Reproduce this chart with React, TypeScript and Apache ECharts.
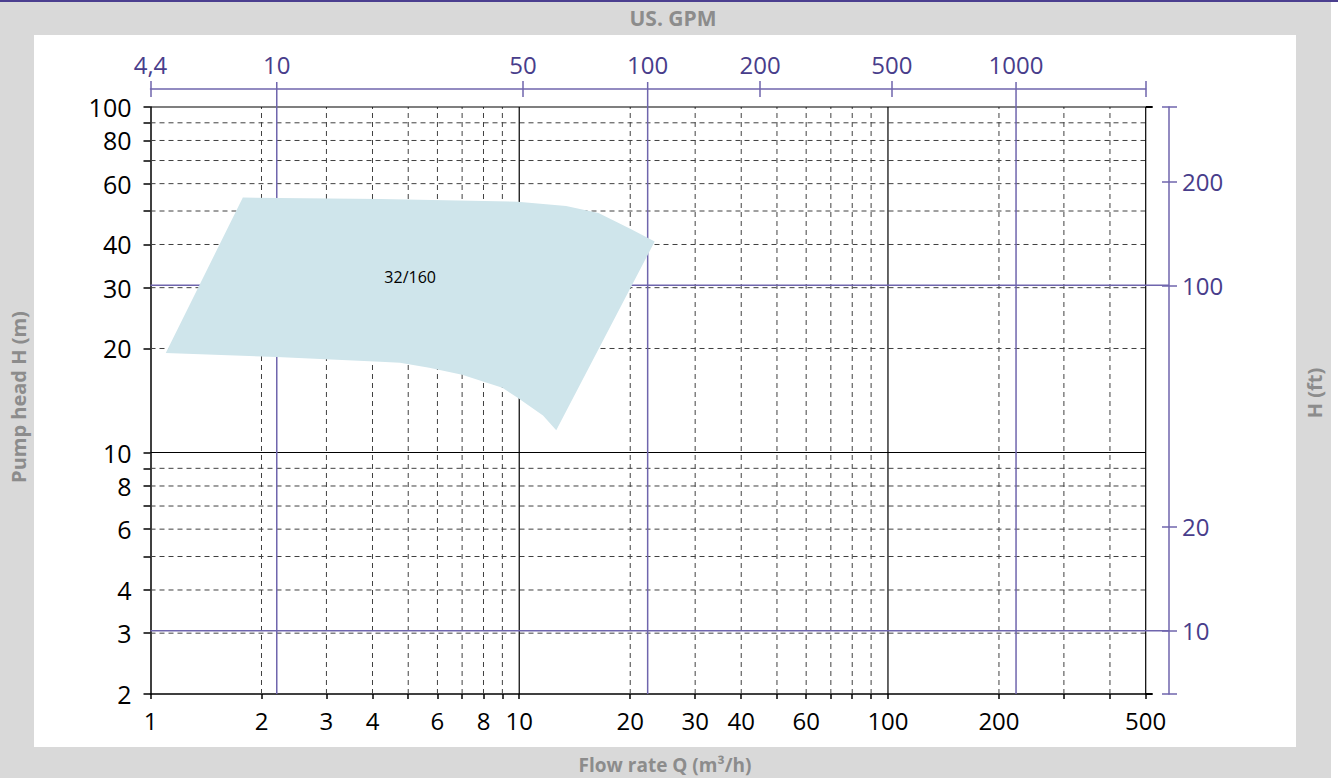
import React, { useEffect, useRef } from "react";
import * as echarts from "echarts";

// ---- axis values (m³/h, m) ----
const flowTicks = [1, 2, 3, 4, 5, 6, 7, 8, 9, 10, 20, 30, 40, 50, 60, 70, 80, 90, 100, 200, 300, 400, 500];
const flowLabels = [1, 2, 3, 4, 6, 8, 10, 20, 30, 40, 60, 100, 200, 500];
const flowGridDashed = [2, 3, 4, 5, 6, 7, 8, 9, 20, 30, 40, 50, 60, 70, 80, 90, 200, 300, 400];
const flowGridSolid = [10, 100, 500];
const headTicks = [2, 3, 4, 5, 6, 7, 8, 9, 10, 20, 30, 40, 50, 60, 70, 80, 90, 100];
const headLabels = [2, 3, 4, 6, 8, 10, 20, 30, 40, 60, 80, 100];
const headGridDashed = [3, 4, 5, 6, 7, 8, 9, 20, 30, 40, 50, 60, 70, 80, 90];
const headGridSolid = [10, 100];

// ---- US GPM scale (top) : label and the flow (m³/h) where it sits ----
const gpmLabels = ["4,4", "10", "50", "100", "200", "500", "1000"];
const gpmAtFlow = [1, 2.2, 10.24, 22.3, 45.0, 102.4, 222.5];
const gpmShortTickFlow = [1, 10.24, 45.0, 102.4, 500];
const gpmLongLineFlow = [2.2, 22.3, 222.5];

// ---- feet scale (right) ----
const ftLabels = [10, 20, 100, 200];
const ftLongLines = [10, 100];
const M_PER_FT = 0.3048;

// ---- pump field 32/160 (flow m³/h, head m) ----
const fieldFlow = [1.1, 1.78, 4.2, 9.9, 13.4, 16.4, 20.0, 23.3, 12.6, 11.6, 9.9, 9.0, 7.0, 5.7, 4.75, 4.2, 2.2];
const fieldHead = [19.4, 54.7, 54.2, 53.2, 51.7, 49.3, 44.4, 40.8, 11.6, 12.8, 14.4, 15.4, 16.8, 17.6, 18.2, 18.3, 18.9];
const fieldName = "32/160";
const fieldLabelFlow = 5.06;
const fieldLabelHead = 32.2;

const Q_MIN = 1, Q_MAX = 500, H_MIN = 2, H_MAX = 100;
const lg = (v: number) => Math.log10(v);

const FONT = '"Open Sans", "Noto Sans", sans-serif';
const PURPLE_TEXT = "#483d8b";
const PURPLE_LINE = "#6f65ad";
const GRAY_TEXT = "#8c8c8c";

export default function App() {
  const ref = useRef<HTMLDivElement>(null);

  useEffect(() => {
    const chart = echarts.init(ref.current!, null, { renderer: "svg" });

    const ftMin = lg(H_MIN / M_PER_FT);
    const ftMax = lg(H_MAX / M_PER_FT);
    const RIGHT_OFFSET = 23.3;
    const TOP_OFFSET = 18;

    const gpmFormatter = (v: number) => {
      let best = 0;
      for (let i = 1; i < gpmAtFlow.length; i++) {
        if (Math.abs(lg(gpmAtFlow[i]) - v) < Math.abs(lg(gpmAtFlow[best]) - v)) best = i;
      }
      return gpmLabels[best];
    };
    const roundFmt = (v: number) => String(Math.round(Math.pow(10, v)));

    const line = (x1: number, y1: number, x2: number, y2: number, style: any) => ({
      type: "line",
      shape: { x1, y1, x2, y2 },
      style,
    });

    const textStyle = (text: string, font: string, fill: string) => ({
      text,
      fill,
      font,
      align: "center",
      verticalAlign: "middle",
      textAlign: "center",
      textVerticalAlign: "middle",
    });

    const option: any = {
      animation: false,
      backgroundColor: "transparent",
      grid: { left: 150.5, right: 1338 - 1145.7, top: 107, bottom: 778 - 694 },
      xAxis: [
        {
          type: "value",
          min: lg(Q_MIN),
          max: lg(Q_MAX),
          position: "bottom",
          axisLine: { onZero: false, lineStyle: { color: "#000", width: 1.5 } },
          axisTick: { customValues: flowTicks.map(lg), length: 5, lineStyle: { color: "#000", width: 1.5 } },
          axisLabel: {
            customValues: flowLabels.map(lg),
            formatter: roundFmt,
            color: "#000",
            fontSize: 24,
            fontFamily: FONT,
            margin: 14,
          },
          splitLine: { show: false },
        },
        {
          type: "value",
          min: lg(Q_MIN),
          max: lg(Q_MAX),
          position: "top",
          offset: TOP_OFFSET,
          axisLine: { onZero: false, lineStyle: { color: PURPLE_LINE, width: 1.5 } },
          axisTick: { customValues: gpmShortTickFlow.map(lg), length: 8, lineStyle: { color: PURPLE_LINE, width: 1.5 } },
          axisLabel: {
            customValues: gpmAtFlow.map(lg),
            formatter: gpmFormatter,
            color: PURPLE_TEXT,
            fontSize: 24,
            fontFamily: FONT,
            margin: 13,
          },
          splitLine: { show: false },
        },
        {
          type: "value",
          min: lg(Q_MIN),
          max: lg(Q_MAX),
          position: "top",
          offset: TOP_OFFSET,
          axisLine: { show: false, onZero: false },
          axisTick: { inside: true, customValues: gpmShortTickFlow.map(lg), length: 8, lineStyle: { color: PURPLE_LINE, width: 1.5 } },
          axisLabel: { show: false },
          splitLine: { show: false },
        },
      ],
      yAxis: [
        {
          type: "value",
          min: lg(H_MIN),
          max: lg(H_MAX),
          position: "left",
          axisLine: { onZero: false, lineStyle: { color: "#000", width: 1.5 } },
          axisTick: { customValues: headTicks.map(lg), length: 7, lineStyle: { color: "#000", width: 1.5 } },
          axisLabel: {
            customValues: headLabels.map(lg),
            formatter: roundFmt,
            color: "#000",
            fontSize: 25,
            fontFamily: FONT,
            margin: 19,
          },
          splitLine: { show: false },
        },
        {
          type: "value",
          min: ftMin,
          max: ftMax,
          position: "right",
          offset: RIGHT_OFFSET,
          axisLine: { onZero: false, lineStyle: { color: PURPLE_LINE, width: 1.5 } },
          axisTick: { customValues: [ftMin, ...ftLabels.map(lg), ftMax], length: 8, lineStyle: { color: PURPLE_LINE, width: 1.5 } },
          axisLabel: {
            customValues: ftLabels.map(lg),
            formatter: roundFmt,
            color: PURPLE_TEXT,
            fontSize: 24,
            fontFamily: FONT,
            margin: 13,
          },
          splitLine: { show: false },
        },
        {
          type: "value",
          min: ftMin,
          max: ftMax,
          position: "right",
          offset: RIGHT_OFFSET,
          axisLine: { show: false, onZero: false },
          axisTick: { inside: true, customValues: [ftMin, ...ftLabels.map(lg), ftMax], length: 7, lineStyle: { color: PURPLE_LINE, width: 1.5 } },
          axisLabel: { show: false },
          splitLine: { show: false },
        },
        {
          type: "value",
          min: lg(H_MIN),
          max: lg(H_MAX),
          position: "right",
          offset: 0,
          axisLine: { show: false, onZero: false },
          axisTick: { customValues: [lg(H_MIN), lg(H_MAX)], length: 7, lineStyle: { color: "#000", width: 2 } },
          axisLabel: { show: false },
          splitLine: { show: false },
        },
      ],
      graphic: [
        { type: "text", x: 673, y: 18, style: textStyle("US. GPM", `bold 21px ${FONT}`, GRAY_TEXT) },
        { type: "text", x: 665, y: 765, style: textStyle("Flow rate Q (m³/h)", `bold 19px ${FONT}`, GRAY_TEXT) },
        { type: "text", x: 18, y: 397, rotation: Math.PI / 2, style: textStyle("Pump head H (m)", `bold 20px ${FONT}`, GRAY_TEXT) },
        { type: "text", x: 1314, y: 393, rotation: Math.PI / 2, style: textStyle("H (ft)", `bold 20px ${FONT}`, GRAY_TEXT) },
      ],
      series: [
        {
          type: "custom",
          name: "grid",
          xAxisIndex: 0,
          yAxisIndex: 0,
          silent: true,
          z: 1,
          data: [[lg(Q_MIN), lg(H_MIN)]],
          renderItem: (params: any, api: any) => {
            const children: any[] = [];
            const dashed = { stroke: "#404040", lineWidth: 1, lineDash: [5, 4] };
            const solid = { stroke: "#000", lineWidth: 1.2 };
            flowGridDashed.forEach((q) => {
              const a = api.coord([lg(q), lg(H_MIN)]);
              const b = api.coord([lg(q), lg(H_MAX)]);
              children.push(line(a[0], a[1], b[0], b[1], dashed));
            });
            headGridDashed.forEach((h) => {
              const a = api.coord([lg(Q_MIN), lg(h)]);
              const b = api.coord([lg(Q_MAX), lg(h)]);
              children.push(line(a[0], a[1], b[0], b[1], dashed));
            });
            flowGridSolid.forEach((q) => {
              const a = api.coord([lg(q), lg(H_MIN)]);
              const b = api.coord([lg(q), lg(H_MAX)]);
              children.push(line(a[0], a[1], b[0], b[1], solid));
            });
            headGridSolid.forEach((h) => {
              const a = api.coord([lg(Q_MIN), lg(h)]);
              const b = api.coord([lg(Q_MAX), lg(h)]);
              children.push(line(a[0], a[1], b[0], b[1], solid));
            });
            return { type: "group", children };
          },
        },
        {
          type: "custom",
          name: "unit lines",
          xAxisIndex: 0,
          yAxisIndex: 0,
          silent: true,
          clip: false,
          z: 2,
          data: [[lg(Q_MIN), lg(H_MIN)]],
          renderItem: (params: any, api: any) => {
            const cs = params.coordSys;
            const children: any[] = [];
            const st = { stroke: PURPLE_LINE, lineWidth: 1.5 };
            gpmLongLineFlow.forEach((q) => {
              const b = api.coord([lg(q), lg(H_MIN)]);
              children.push(line(b[0], cs.y - TOP_OFFSET - 7, b[0], b[1], st));
            });
            ftLongLines.forEach((ft) => {
              const a = api.coord([lg(Q_MIN), lg(ft * M_PER_FT)]);
              children.push(line(a[0], a[1], cs.x + cs.width + RIGHT_OFFSET, a[1], st));
            });
            return { type: "group", children };
          },
        },
        {
          type: "custom",
          name: fieldName,
          xAxisIndex: 0,
          yAxisIndex: 0,
          silent: true,
          z: 3,
          data: [[lg(fieldLabelFlow), lg(fieldLabelHead)]],
          renderItem: (params: any, api: any) => {
            const pts = fieldFlow.map((q, i) => api.coord([lg(q), lg(fieldHead[i])]));
            const lp = api.coord([lg(fieldLabelFlow), lg(fieldLabelHead)]);
            return {
              type: "group",
              children: [
                { type: "polygon", shape: { points: pts }, style: { fill: "#cfe5eb", stroke: "none" } },
                { type: "text", x: lp[0], y: lp[1], style: textStyle(fieldName, `16px ${FONT}`, "#000") },
              ],
            };
          },
        },
      ],
    };

    chart.setOption(option);
    return () => chart.dispose();
  }, []);

  return (
    <div style={{ position: "absolute", left: 0, top: 0, width: 1338, height: 778, background: "#fff", overflow: "hidden" }}>
      <div style={{ position: "absolute", left: 0, top: 0, width: 1331, height: 778, background: "#d9d9d9" }} />
      <div style={{ position: "absolute", left: 34, top: 35, width: 1262, height: 712, background: "#fff" }} />
      <div style={{ position: "absolute", left: 0, top: 0, width: 1338, height: 2, background: "#4b3f8f" }} />
      <div ref={ref} style={{ position: "absolute", left: 0, top: 0, width: 1338, height: 778 }} />
    </div>
  );
}
